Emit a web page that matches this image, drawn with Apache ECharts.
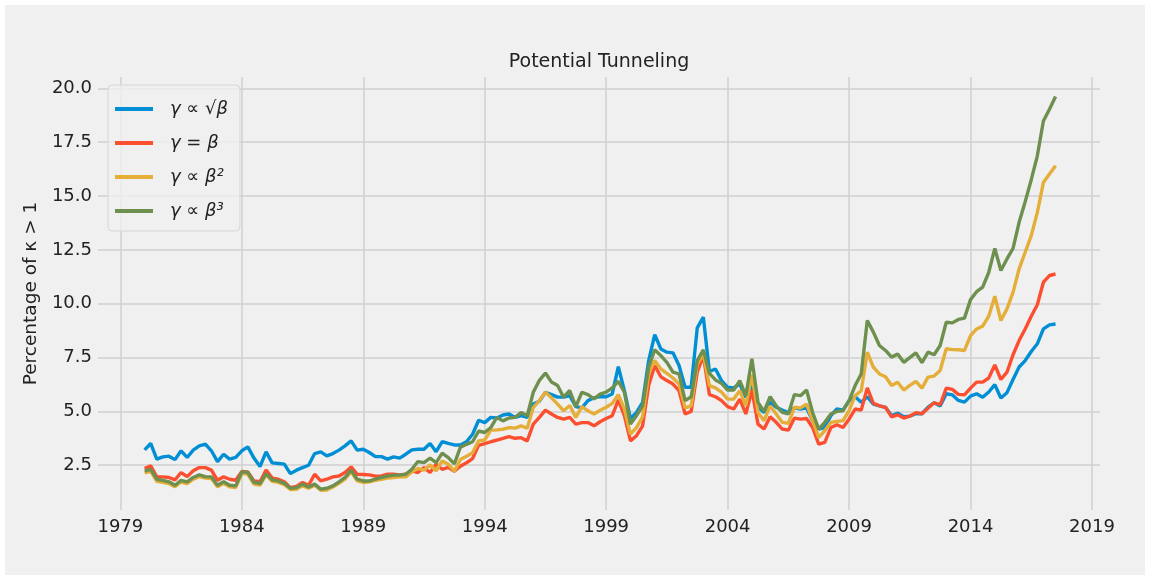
<!DOCTYPE html>
<html>
<head>
<meta charset="utf-8">
<script src="https://cdn.jsdelivr.net/npm/echarts@6/dist/echarts.min.js"></script>
<style>
html, body { margin: 0; padding: 0; background: #ffffff; }
#chart { position: absolute; left: 5px; top: 5px; width: 1140px; height: 570px; background: #f0f0f0; }
</style>
</head>
<body>
<div id="chart"></div>
<script>
// quarterly observations, first one is 1980 Q1
var startYear = 1980;

var sqrtBeta = [
  3.21, 3.51, 2.78, 2.89, 2.92, 2.76, 3.17, 2.86, 3.20, 3.40, 3.48, 3.17, 2.67, 3.01, 2.78, 2.86, 3.17, 3.35, 2.83, 2.44, 3.12, 2.61, 2.58, 2.55, 2.11, 2.27,
  2.39, 2.50, 3.04, 3.12, 2.93, 3.04, 3.20, 3.40, 3.63, 3.20, 3.24, 3.09, 2.90, 2.90, 2.78, 2.89, 2.83, 3.01, 3.21, 3.24, 3.24, 3.51, 3.13, 3.60, 3.51,
  3.44, 3.44, 3.59, 3.94, 4.59, 4.48, 4.72, 4.69, 4.83, 4.88, 4.72, 4.80, 4.72, 5.34, 5.47, 5.89, 5.78, 5.66, 5.66, 5.73, 5.22, 5.16, 5.50, 5.63, 5.69,
  5.68, 5.81, 7.08, 5.96, 4.67, 4.95, 5.42, 7.36, 8.56, 7.90, 7.75, 7.72, 7.13, 6.12, 6.12, 8.88, 9.38, 6.85, 6.97, 6.43, 6.12, 6.09, 6.27, 5.65, 6.20,
  5.19, 4.95, 5.42, 5.19, 5.06, 4.95, 5.16, 5.11, 5.16, 4.57, 4.18, 4.25, 4.80, 5.11, 5.06, 5.50, 5.68, 5.42, 5.68, 5.34, 5.26, 5.19, 4.80, 4.91, 4.75,
  4.78, 4.89, 4.89, 5.20, 5.40, 5.25, 5.82, 5.77, 5.51, 5.43, 5.71, 5.82, 5.66, 5.90, 6.24, 5.62, 5.87, 6.48, 7.06, 7.36, 7.78, 8.14, 8.83, 9.02, 9.06
];

var linBeta = [
  2.35, 2.47, 1.96, 1.96, 1.93, 1.82, 2.16, 1.97, 2.24, 2.39, 2.39, 2.27, 1.80, 1.96, 1.85, 1.80, 2.21, 2.19, 1.77, 1.73, 2.28, 1.90, 1.85, 1.73, 1.46, 1.52,
  1.70, 1.57, 2.08, 1.77, 1.85, 1.96, 2.00, 2.16, 2.42, 2.08, 2.07, 2.05, 1.99, 2.00, 2.08, 2.08, 2.05, 2.08, 2.24, 2.16, 2.39, 2.16, 2.55, 2.31, 2.40,
  2.22, 2.45, 2.61, 2.81, 3.42, 3.50, 3.59, 3.67, 3.75, 3.83, 3.75, 3.78, 3.63, 4.41, 4.72, 5.06, 4.88, 4.72, 4.64, 4.72, 4.41, 4.48, 4.48, 4.33, 4.52,
  4.67, 4.80, 5.53, 4.80, 3.63, 3.87, 4.33, 6.20, 7.13, 6.61, 6.43, 6.27, 5.96, 4.88, 5.00, 6.82, 7.59, 5.78, 5.68, 5.50, 5.22, 5.11, 5.57, 4.88, 5.99,
  4.41, 4.18, 4.75, 4.49, 4.18, 4.13, 4.69, 4.64, 4.67, 4.25, 3.48, 3.56, 4.25, 4.38, 4.25, 4.64, 5.11, 5.06, 6.09, 5.37, 5.26, 5.19, 4.75, 4.84, 4.69,
  4.78, 4.94, 4.89, 5.15, 5.40, 5.31, 6.08, 6.02, 5.79, 5.77, 6.08, 6.36, 6.36, 6.55, 7.16, 6.48, 6.82, 7.63, 8.29, 8.83, 9.42, 9.95, 11.00, 11.31, 11.38
];

var sqBeta = [
  2.14, 2.22, 1.75, 1.70, 1.65, 1.50, 1.72, 1.65, 1.85, 1.97, 1.90, 1.88, 1.50, 1.65, 1.50, 1.46, 2.12, 2.08, 1.62, 1.58, 2.05, 1.75, 1.70, 1.60, 1.37, 1.38,
  1.54, 1.43, 1.57, 1.34, 1.35, 1.49, 1.66, 1.85, 2.21, 1.77, 1.70, 1.73, 1.80, 1.85, 1.90, 1.93, 1.96, 1.96, 2.19, 2.35, 2.27, 2.52, 2.24, 2.70, 2.55,
  2.22, 2.77, 2.92, 3.08, 3.63, 3.67, 4.13, 4.14, 4.17, 4.25, 4.22, 4.33, 4.22, 5.19, 5.50, 5.89, 5.63, 5.34, 5.03, 5.27, 4.72, 5.22, 5.03, 4.88, 5.05,
  5.19, 5.37, 5.78, 5.11, 3.94, 4.25, 4.75, 6.74, 7.36, 6.97, 6.77, 6.55, 6.27, 5.16, 5.26, 7.20, 7.67, 6.20, 6.09, 5.89, 5.57, 5.57, 5.96, 5.26, 6.70,
  4.95, 4.57, 5.26, 4.88, 4.49, 4.44, 5.19, 5.16, 5.34, 4.57, 3.79, 4.10, 4.49, 4.53, 4.57, 5.03, 5.73, 5.96, 7.75, 7.05, 6.74, 6.61, 6.20, 6.35, 5.99,
  6.21, 6.39, 6.08, 6.59, 6.64, 6.90, 7.91, 7.87, 7.86, 7.83, 8.52, 8.83, 8.96, 9.42, 10.35, 9.22, 9.76, 10.53, 11.62, 12.39, 13.16, 14.24, 15.63, 16.02, 16.41
];

var cubeBeta = [
  2.24, 2.31, 1.85, 1.80, 1.73, 1.57, 1.80, 1.73, 1.93, 2.05, 1.97, 1.96, 1.57, 1.73, 1.57, 1.54, 2.19, 2.16, 1.70, 1.65, 2.11, 1.82, 1.77, 1.66, 1.43, 1.46,
  1.62, 1.49, 1.62, 1.39, 1.43, 1.54, 1.73, 1.93, 2.27, 1.85, 1.77, 1.77, 1.85, 1.93, 2.00, 2.04, 2.04, 2.08, 2.31, 2.67, 2.62, 2.83, 2.62, 3.06, 2.85,
  2.56, 3.34, 3.47, 3.59, 4.09, 4.02, 4.25, 4.72, 4.56, 4.69, 4.72, 4.95, 4.80, 5.89, 6.44, 6.78, 6.36, 6.20, 5.66, 5.97, 5.22, 5.89, 5.78, 5.58, 5.80,
  5.89, 6.09, 6.40, 5.89, 4.41, 4.80, 5.26, 7.05, 7.86, 7.59, 7.28, 6.82, 6.74, 5.50, 5.68, 7.36, 7.86, 6.77, 6.46, 6.30, 5.99, 5.99, 6.43, 5.73, 7.44,
  5.42, 5.00, 5.68, 5.26, 4.95, 4.88, 5.78, 5.73, 5.99, 4.95, 4.18, 4.49, 4.88, 5.00, 5.03, 5.50, 6.20, 6.74, 9.22, 8.68, 8.06, 7.83, 7.52, 7.67, 7.28,
  7.50, 7.72, 7.26, 7.75, 7.63, 8.06, 9.14, 9.11, 9.27, 9.33, 10.19, 10.56, 10.77, 11.46, 12.57, 11.54, 12.08, 12.57, 13.78, 14.74, 15.76, 16.87, 18.49, 19.03, 19.62
];

var seriesNames = ['γ ∝ √β', 'γ = β', 'γ ∝ β²', 'γ ∝ β³'];
var xTicks = [1979, 1984, 1989, 1994, 1999, 2004, 2009, 2014, 2019];
var yTicks = [2.5, 5.0, 7.5, 10.0, 12.5, 15.0, 17.5, 20.0];

var colors = ['#008fd5', '#fc4f30', '#e5ae38', '#6d904f'];
var font = 'DejaVu Sans';

function toPairs(vals) {
  var out = [];
  for (var i = 0; i < vals.length; i++) {
    out.push([startYear + i / 4, vals[i]]);
  }
  return out;
}

var allData = [sqrtBeta, linBeta, sqBeta, cubeBeta];
var series = [];
for (var s = 0; s < allData.length; s++) {
  series.push({
    name: seriesNames[s],
    type: 'line',
    data: toPairs(allData[s]),
    showSymbol: false,
    symbol: 'none',
    lineStyle: { width: 3.4, color: colors[s] },
    itemStyle: { color: colors[s] },
    z: 2 + s
  });
}

var myChart = echarts.init(document.getElementById('chart'), null, { renderer: 'canvas' });
var option = {
  animation: false,
  backgroundColor: '#f0f0f0',
  color: colors,
  title: {
    text: 'Potential Tunneling',
    left: 594,
    top: 48,
    textAlign: 'center',
    padding: 0,
    textStyle: { fontFamily: font, fontSize: 19, fontWeight: 'normal', color: '#222222' }
  },
  legend: {
    orient: 'vertical',
    left: 103,
    top: 80,
    padding: [15, 12, 11, 7],
    itemGap: 16,
    itemWidth: 38,
    itemHeight: 4,
    icon: 'rect',
    backgroundColor: 'rgba(240,240,240,0.8)',
    borderColor: '#d6d6d6',
    borderWidth: 1,
    borderRadius: 4,
    textStyle: { fontFamily: font, fontSize: 18, fontStyle: 'italic', color: '#222222', padding: [0, 0, 0, 12] },
    data: seriesNames
  },
  grid: { left: 93, right: 45, top: 72, bottom: 65, containLabel: false },
  xAxis: {
    type: 'value',
    min: 1978.08,
    max: 2019.33,
    axisLine: { show: false },
    axisTick: { show: false, customValues: xTicks },
    axisLabel: {
      customValues: xTicks,
      margin: 8,
      fontFamily: font, fontSize: 18, color: '#222222',
      formatter: function (v) { return String(Math.round(v)); }
    },
    splitLine: { show: true, lineStyle: { color: '#d0d0d0', width: 1.5 } }
  },
  yAxis: {
    type: 'value',
    min: 0.42,
    max: 20.53,
    name: 'Percentage of κ > 1',
    nameLocation: 'middle',
    nameGap: 55,
    nameTextStyle: { fontFamily: font, fontSize: 18.5, color: '#222222' },
    axisLine: { show: false },
    axisTick: { show: false, customValues: yTicks },
    axisLabel: {
      customValues: yTicks,
      margin: 6,
      fontFamily: font, fontSize: 18, color: '#222222',
      formatter: function (v) { return v.toFixed(1); }
    },
    splitLine: { show: true, lineStyle: { color: '#d0d0d0', width: 1.5 } }
  },
  series: series
};
myChart.setOption(option);
</script>
</body>
</html>
